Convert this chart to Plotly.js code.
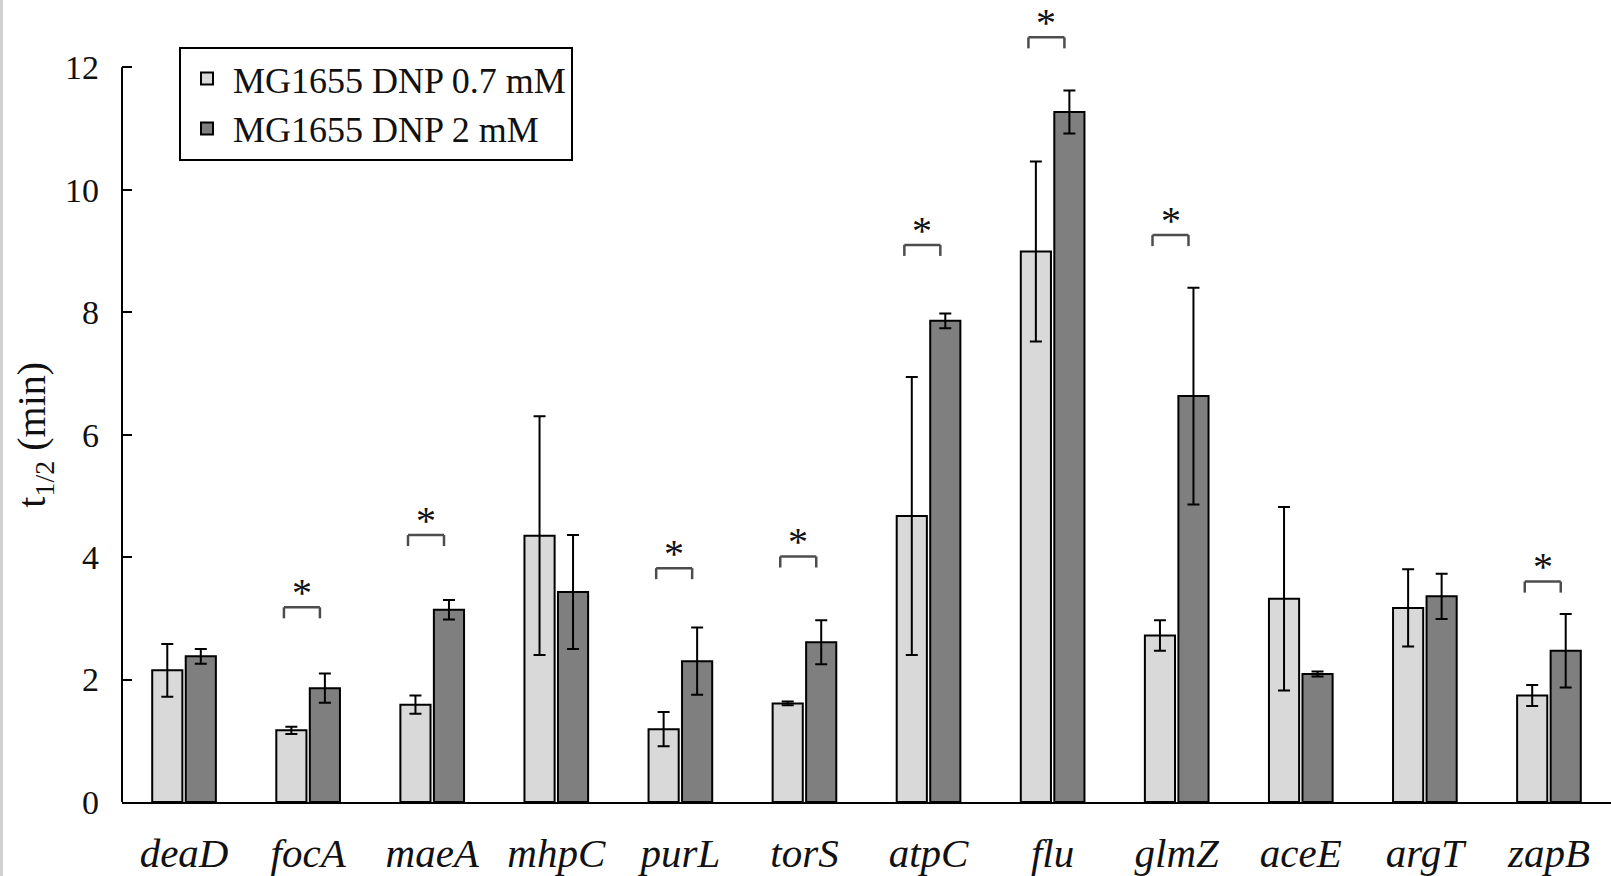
<!DOCTYPE html>
<html><head><meta charset="utf-8">
<script src="https://cdn.plot.ly/plotly-3.0.1.min.js"></script>
<style>html,body{margin:0;padding:0;background:#fff;} #chart{width:1611px;height:876px;}</style>
</head><body><div id="chart"></div>
<script>
const genes = ['deaD','focA','maeA','mhpC','purL','torS','atpC','flu','glmZ','aceE','argT','zapB'];
const dnp07 = [2.15,1.17,1.59,4.35,1.19,1.61,4.67,8.99,2.72,3.32,3.17,1.74];
const dnp07Err = [0.43,0.06,0.15,1.95,0.28,0.03,2.27,1.47,0.25,1.50,0.63,0.17];
const dnp2 = [2.38,1.86,3.14,3.43,2.30,2.61,7.86,11.27,6.63,2.09,3.36,2.47];
const dnp2Err = [0.12,0.24,0.16,0.93,0.55,0.36,0.12,0.35,1.77,0.04,0.37,0.60];
const sigGenes = ['focA','maeA','purL','torS','atpC','flu','glmZ','zapB'];
const sigLevel = [3.18,4.36,3.82,4.01,9.10,12.49,9.26,3.60];
const yTicks = [0,2,4,6,8,10,12];
const seriesNames = ['MG1655 DNP 0.7 mM','MG1655 DNP 2 mM'];

const FONT = 'Liberation Serif, Times New Roman, serif';

const traces = [
  {type:'bar', name:seriesNames[0], x:genes, y:dnp07,
   marker:{color:'#d9d9d9', line:{color:'#000', width:2}},
   error_y:{type:'data', array:dnp07Err, visible:true, color:'#000', thickness:2, width:6},
   cliponaxis:false},
  {type:'bar', name:seriesNames[1], x:genes, y:dnp2,
   marker:{color:'#7f7f7f', line:{color:'#000', width:2}},
   error_y:{type:'data', array:dnp2Err, visible:true, color:'#000', thickness:2, width:6},
   cliponaxis:false}
];

const shapes = [];
const annotations = [];
const half = 0.145, leg = 0.18, shift = -0.05;
sigGenes.forEach((g, i) => {
  const idx = genes.indexOf(g);
  const cx = idx + shift;
  const lv = sigLevel[i];
  const ln = {color:'#4d4d4d', width:2.5};
  shapes.push({type:'line', xref:'x', yref:'y', x0:cx-half, x1:cx-half, y0:lv-leg, y1:lv, line:ln});
  shapes.push({type:'line', xref:'x', yref:'y', x0:cx-half, x1:cx+half, y0:lv, y1:lv, line:ln});
  shapes.push({type:'line', xref:'x', yref:'y', x0:cx+half, x1:cx+half, y0:lv-leg, y1:lv, line:ln});
  annotations.push({xref:'x', yref:'y', x:cx, y:lv+0.24, text:'*', showarrow:false,
    xanchor:'center', yanchor:'middle', font:{family:FONT, size:40, color:'#111'}});
});
// y axis line from 0 to 12
shapes.push({type:'line', xref:'paper', yref:'y', x0:0, x1:0, y0:0, y1:12, line:{color:'#000', width:2}});
// left gray border of the picture
shapes.push({type:'line', xref:'paper', yref:'paper', x0:-121/1489, x1:-121/1489, y0:-0.1, y1:1.0, line:{color:'#d0d0d0', width:4}});

annotations.push({xref:'paper', yref:'y', x:-88/1489, y:6.0, text:'t<sub>1/2</sub> (min)', textangle:-90,
  showarrow:false, xanchor:'center', yanchor:'middle', font:{family:FONT, size:40, color:'#111'}});

const layout = {
  width:1611, height:876,
  margin:{l:122, r:0, t:0, b:74},
  paper_bgcolor:'#fff', plot_bgcolor:'#fff',
  barmode:'group', bargap:0.46, bargroupgap:0.1,
  font:{family:FONT, color:'#111'},
  showlegend:true,
  legend:{x:0.0383, y:0.9418, xanchor:'left', yanchor:'top', bgcolor:'#fff', itemwidth:42,
    bordercolor:'#000', borderwidth:2, font:{family:FONT, size:36, color:'#111'}, traceorder:'normal'},
  xaxis:{type:'category', range:[-0.5, 11.5], showline:true, linecolor:'#000', linewidth:2,
    ticks:'', showgrid:false, zeroline:false, ticklabelstandoff:14,
    tickfont:{family:FONT, size:41, style:'italic', color:'#111'}},
  yaxis:{range:[0, 13.1], showline:false, showgrid:false, zeroline:false,
    tickmode:'array', tickvals:yTicks, ticktext:yTicks.map(String),
    ticks:'inside', ticklen:10, tickwidth:2, tickcolor:'#000', ticklabelstandoff:22,
    tickfont:{family:FONT, size:34, color:'#111'}},
  shapes:shapes, annotations:annotations
};

Plotly.newPlot('chart', traces, layout, {displayModeBar:false, staticPlot:true});
</script>
</body></html>
